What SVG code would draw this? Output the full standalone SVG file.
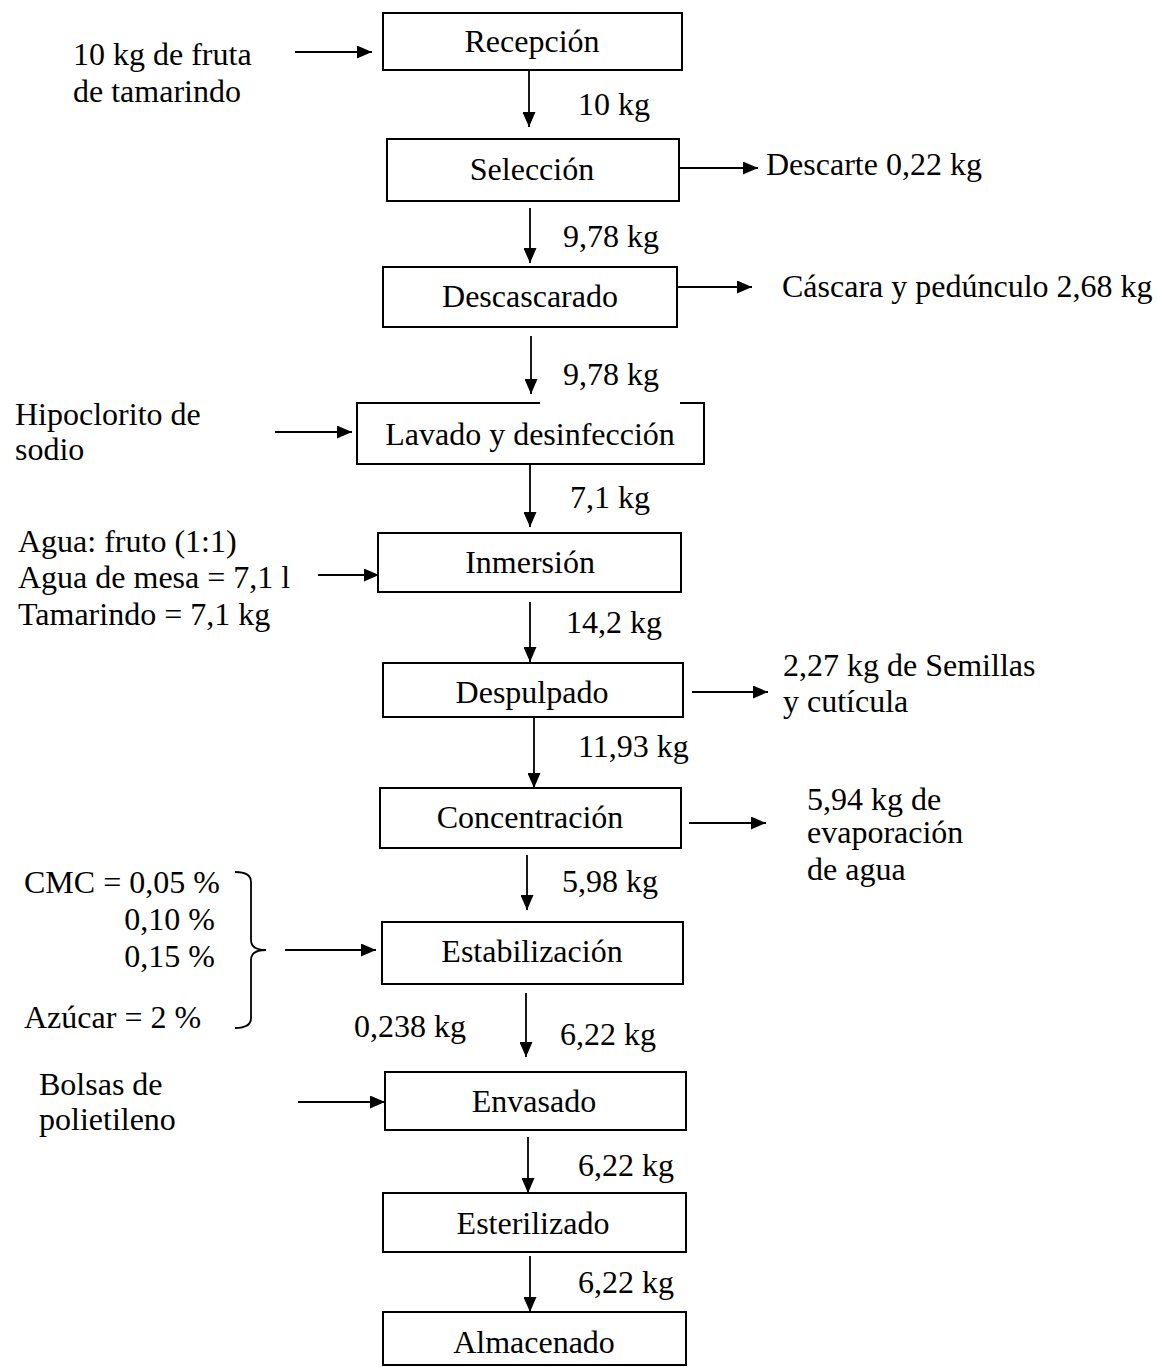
<svg xmlns="http://www.w3.org/2000/svg" width="1163" height="1367" viewBox="0 0 1163 1367">
<style>
text{font-family:"Liberation Serif","Times New Roman",serif;font-size:32px;fill:#000}
.box{fill:#fff;stroke:#000;stroke-width:2}
.c{text-anchor:middle}
.r{text-anchor:end}
.ln{stroke:#000;stroke-width:1.8;fill:none}
</style>
<defs>
<marker id="ah" markerUnits="userSpaceOnUse" markerWidth="15" markerHeight="13" refX="15" refY="6.5" orient="auto">
<path d="M0,0 L15,6.5 L0,13 z" fill="#000"/>
</marker>
</defs>
<rect width="1163" height="1367" fill="#fff"/>
<g id="connectors">
<line class="ln" x1="295" y1="52" x2="372" y2="52" marker-end="url(#ah)"/>
<line class="ln" x1="529" y1="70" x2="529" y2="127" marker-end="url(#ah)"/>
<line class="ln" x1="680" y1="168" x2="758" y2="168" marker-end="url(#ah)"/>
<line class="ln" x1="530" y1="208" x2="530" y2="263" marker-end="url(#ah)"/>
<line class="ln" x1="677" y1="287" x2="752" y2="287" marker-end="url(#ah)"/>
<line class="ln" x1="531" y1="336" x2="531" y2="394" marker-end="url(#ah)"/>
<line class="ln" x1="275" y1="432" x2="352" y2="432" marker-end="url(#ah)"/>
<line class="ln" x1="530" y1="458" x2="530" y2="527" marker-end="url(#ah)"/>
<line class="ln" x1="318" y1="575" x2="379" y2="575" marker-end="url(#ah)"/>
<line class="ln" x1="530" y1="602" x2="530" y2="662" marker-end="url(#ah)"/>
<line class="ln" x1="692" y1="692" x2="768" y2="692" marker-end="url(#ah)"/>
<line class="ln" x1="534" y1="718" x2="534" y2="788" marker-end="url(#ah)"/>
<line class="ln" x1="689" y1="823" x2="766" y2="823" marker-end="url(#ah)"/>
<line class="ln" x1="527" y1="855" x2="527" y2="910" marker-end="url(#ah)"/>
<line class="ln" x1="285" y1="950" x2="376" y2="950" marker-end="url(#ah)"/>
<line class="ln" x1="526" y1="993" x2="526" y2="1057" marker-end="url(#ah)"/>
<line class="ln" x1="298" y1="1102" x2="385" y2="1102" marker-end="url(#ah)"/>
<line class="ln" x1="528" y1="1137" x2="528" y2="1193" marker-end="url(#ah)"/>
<line class="ln" x1="530" y1="1256" x2="530" y2="1312" marker-end="url(#ah)"/>
<path class="ln" d="M235,872 Q251,872 251,882 V940 Q251,950 266,950 Q251,950 251,960 V1018 Q251,1028 235,1028"/>
</g>
<g id="recepcion"><rect class="box" x="383" y="13" width="299" height="57"/><text class="c" x="532" y="52">Recepción</text></g>
<g id="seleccion"><rect class="box" x="387" y="139" width="292" height="62"/><text class="c" x="532" y="180">Selección</text></g>
<g id="descascarado"><rect class="box" x="383" y="267" width="294" height="60"/><text class="c" x="530" y="307">Descascarado</text></g>
<g id="lavado"><path class="box" d="M540,403 H357 V464 H704 V403 H680"/><text class="c" x="530" y="445">Lavado y desinfección</text></g>
<g id="inmersion"><rect class="box" x="378" y="533" width="303" height="59"/><text class="c" x="530" y="573">Inmersión</text></g>
<g id="despulpado"><rect class="box" x="383" y="663" width="300" height="54"/><text class="c" x="532" y="703">Despulpado</text></g>
<g id="concentracion"><rect class="box" x="380" y="788" width="301" height="60"/><text class="c" x="530" y="828">Concentración</text></g>
<g id="estabilizacion"><rect class="box" x="382" y="922" width="301" height="62"/><text class="c" x="532" y="962">Estabilización</text></g>
<g id="envasado"><rect class="box" x="385" y="1072" width="301" height="58"/><text class="c" x="534" y="1112">Envasado</text></g>
<g id="esterilizado"><rect class="box" x="383" y="1193" width="303" height="59"/><text class="c" x="533" y="1234">Esterilizado</text></g>
<g id="almacenado"><rect class="box" x="383" y="1312" width="303" height="53"/><text class="c" x="534" y="1353">Almacenado</text></g>
<g id="labels">
<text x="73" y="65">10 kg de fruta</text>
<text x="73" y="102">de tamarindo</text>
<text x="578" y="115">10 kg</text>
<text x="766" y="175">Descarte 0,22 kg</text>
<text x="563" y="247">9,78 kg</text>
<text x="782" y="297">Cáscara y pedúnculo 2,68 kg</text>
<text x="563" y="385">9,78 kg</text>
<text x="15" y="425">Hipoclorito de</text>
<text x="15" y="460">sodio</text>
<text x="570" y="508">7,1 kg</text>
<text x="18" y="552">Agua: fruto (1:1)</text>
<text x="18" y="588">Agua de mesa = 7,1 l</text>
<text x="18" y="625">Tamarindo = 7,1 kg</text>
<text x="566" y="633">14,2 kg</text>
<text x="783" y="676">2,27 kg de Semillas</text>
<text x="783" y="712">y cutícula</text>
<text x="578" y="757">11,93 kg</text>
<text x="807" y="810">5,94 kg de</text>
<text x="807" y="843">evaporación</text>
<text x="807" y="880">de agua</text>
<text x="24" y="893">CMC = 0,05 %</text>
<text class="r" x="215" y="930">0,10 %</text>
<text class="r" x="215" y="967">0,15 %</text>
<text x="24" y="1028">Azúcar = 2 %</text>
<text x="562" y="892">5,98 kg</text>
<text x="354" y="1037">0,238 kg</text>
<text x="560" y="1045">6,22 kg</text>
<text x="39" y="1095">Bolsas de</text>
<text x="39" y="1130">polietileno</text>
<text x="578" y="1176">6,22 kg</text>
<text x="578" y="1293">6,22 kg</text>
</g>
</svg>
